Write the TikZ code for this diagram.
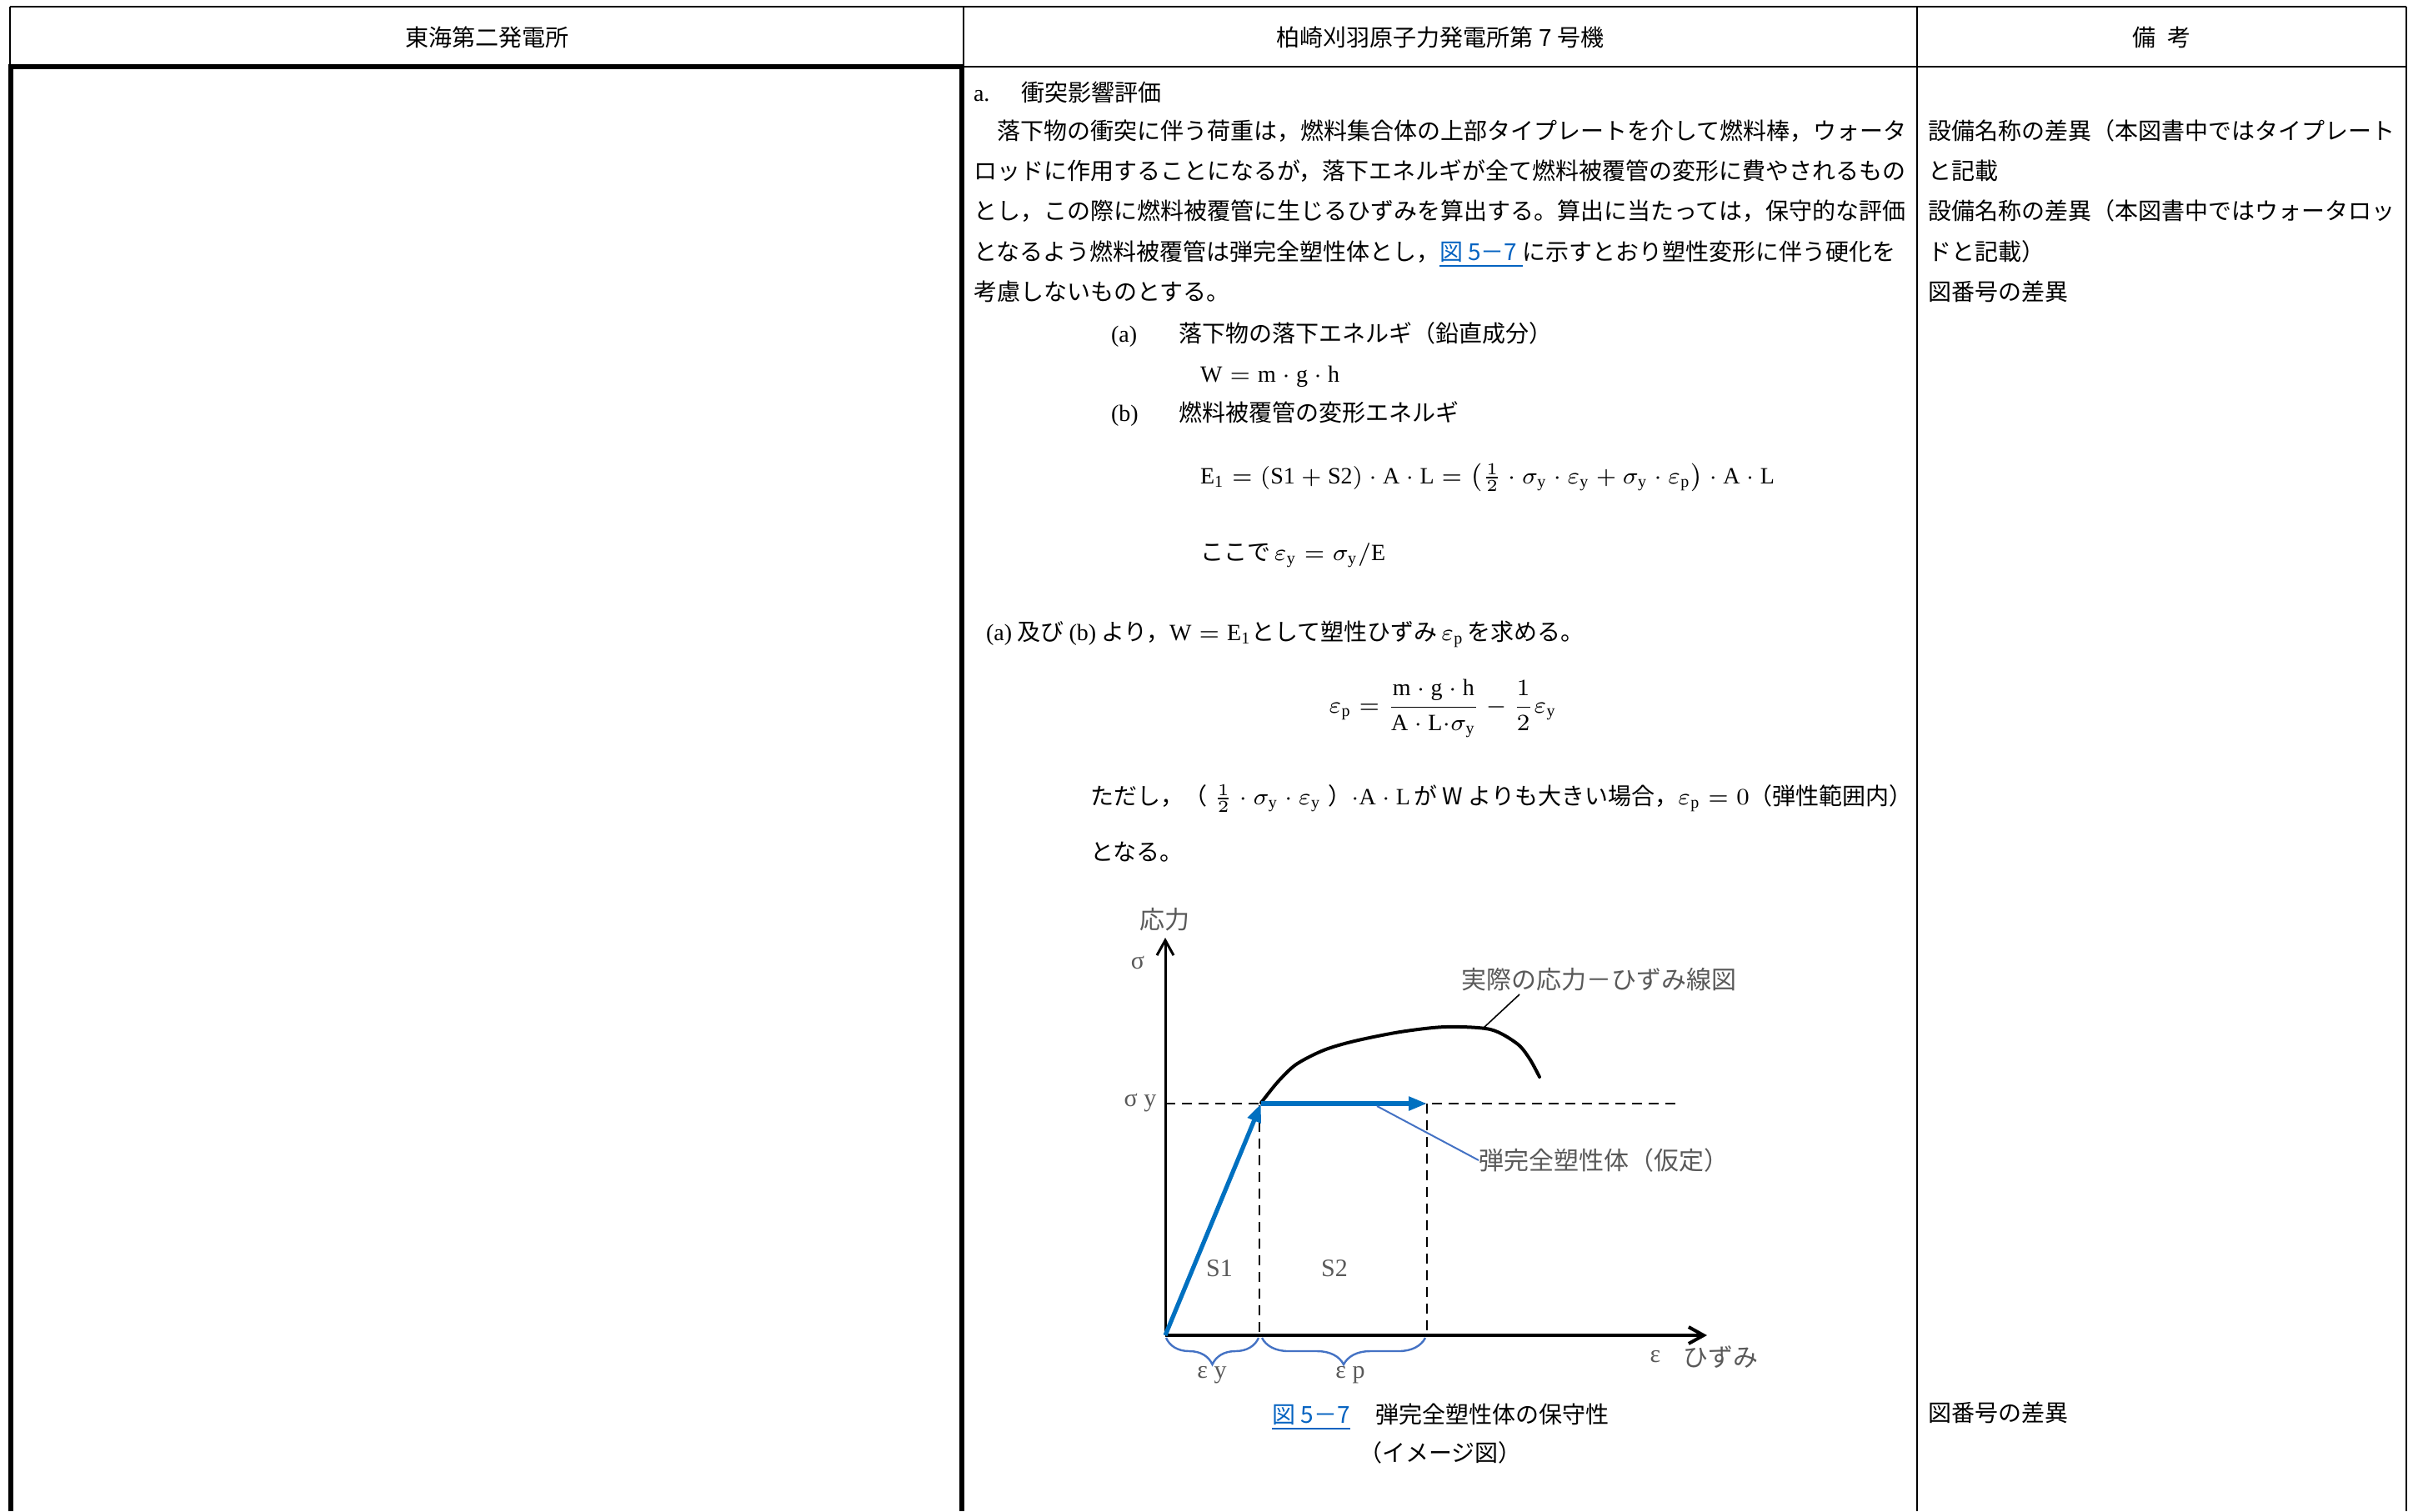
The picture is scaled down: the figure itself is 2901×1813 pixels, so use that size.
\documentclass[tikz,border=0pt]{standalone}
\usepackage{amsmath}
\usepackage{fontspec}
\setmainfont{Liberation Serif}
\newfontfamily\jpfont{Noto Sans CJK JP}
\usetikzlibrary{arrows.meta,decorations.pathreplacing}

\begin{document}
\begin{tikzpicture}[x=0.25pt,y=-0.25pt,
  cell/.style={text=drawColor,inner sep=0pt,outer sep=0pt,font=\fontsize{7}{8}\selectfont\jpfont},
  txtline/.style={cell,anchor=base west},
  lab/.style={text=labColor,inner sep=0pt,outer sep=0pt,font=\fontsize{7.5}{9}\selectfont\jpfont},
  gridthin/.style={draw=drawColor,line width=0.5pt},
  gridthick/.style={draw=drawColor,line width=1.3pt,line join=miter},
  guide/.style={draw=drawColor,line width=0.6pt,dash pattern=on 3pt off 2pt},
  plastic/.style={draw=blueColor,line width=1.3pt,-{Triangle[length=5.5pt,width=4pt]}},
  axis/.style={draw=drawColor,-{Straight Barb[length=4.5pt,width=5pt]}},
  strainbrace/.style={draw=braceColor,line width=0.6pt,decorate,decoration={brace,mirror,amplitude=8pt}}]
\definecolor{fillColor}{RGB}{255,255,255}
\path[use as bounding box,fill=fillColor] (0,0) rectangle (2901,1813);
\definecolor{drawColor}{RGB}{0,0,0}
\definecolor{labColor}{RGB}{89,89,89}
\definecolor{blueColor}{RGB}{0,112,192}
\definecolor{braceColor}{RGB}{68,114,196}
\definecolor{linkColor}{RGB}{5,99,193}

\path[gridthin] (12,8) -- (2887,8);
\path[gridthin] (12,8) -- (12,80);
\path[gridthin] (1156,8) -- (1156,80);
\path[gridthin] (1154,80) -- (2887,80);
\path[gridthin] (2300,8) -- (2300,1813);
\path[gridthin] (2887,8) -- (2887,1813);
\path[gridthick] (13,1813) -- (13,80) -- (1154,80) -- (1154,1813);

\node[cell,anchor=base] (hdrTokai) at (584,55) {東海第二発電所};
\node[cell,anchor=base] (hdrKK) at (1728,55) {柏崎刈羽原子力発電所第 7 号機};
\node[cell,anchor=base] (hdrNote) at (2593,55) {備\hspace{3.5pt}考};

\node[txtline] (secA) at (1168,121) {\rmfamily a.};
\node[txtline] (secATitle) at (1225,121) {衝突影響評価};
\node[txtline] (parA) at (1168,167) {　落下物の衝突に伴う荷重は，燃料集合体の上部タイプレートを介して燃料棒，ウォータ};
\node[txtline] (parB) at (1168,215) {ロッドに作用することになるが，落下エネルギが全て燃料被覆管の変形に費やされるもの};
\node[txtline] (parC) at (1168,263) {とし，この際に燃料被覆管に生じるひずみを算出する。算出に当たっては，保守的な評価};
\node[txtline] (parD) at (1168,312) {となるよう燃料被覆管は弾完全塑性体とし，{\color{linkColor}\underline{図 5－7 }}に示すとおり塑性変形に伴う硬化を};
\node[txtline] (parE) at (1168,360) {考慮しないものとする。};

\node[txtline] (itemA) at (1333,410) {\rmfamily (a)};
\node[txtline] (itemAText) at (1414,410) {落下物の落下エネルギ（鉛直成分）};
\node[txtline] (eqW) at (1440,458) {$\mathrm{W=m\cdot g\cdot h}$};
\node[txtline] (itemB) at (1333,505) {\rmfamily (b)};
\node[txtline] (itemBText) at (1414,505) {燃料被覆管の変形エネルギ};
\node[txtline] (eqE) at (1440,580) {$\mathrm{E_1=(S1+S2)\cdot A\cdot L}=\left(\tfrac{1}{2}\cdot\sigma_{\mathrm y}\cdot\varepsilon_{\mathrm y}+\sigma_{\mathrm y}\cdot\varepsilon_{\mathrm p}\right)\cdot\mathrm{A\cdot L}$};
\node[txtline] (eqEy) at (1440,672) {ここで\,$\varepsilon_{\mathrm y}=\sigma_{\mathrm y}/\mathrm{E}$};
\node[txtline] (fromAB) at (1183,768) {{\rmfamily (a)} 及び {\rmfamily (b)} より，$\mathrm{W=E_1}$として塑性ひずみ\,$\varepsilon_{\mathrm p}$\,を求める。};
\node[cell,anchor=center] (eqEp) at (1731,850) {$\displaystyle\varepsilon_{\mathrm p}=\frac{\mathrm{m\cdot g\cdot h}}{\mathrm{A\cdot L\cdot}\sigma_{\mathrm y}}-\frac{1}{2}\varepsilon_{\mathrm y}$};
\node[txtline] (provisoA) at (1308,965) {ただし，（\hspace{2pt}$\tfrac{1}{2}\cdot\sigma_{\mathrm y}\cdot\varepsilon_{\mathrm y}$\hspace{2pt}）$\cdot\mathrm{A\cdot L}$\,が W よりも大きい場合，$\varepsilon_{\mathrm p}=0$（弾性範囲内）};
\node[txtline] (provisoB) at (1308,1032) {となる。};

\node[txtline] (noteA) at (2313,167) {設備名称の差異（本図書中ではタイプレート};
\node[txtline] (noteB) at (2313,215) {と記載};
\node[txtline] (noteC) at (2313,263) {設備名称の差異（本図書中ではウォータロッ};
\node[txtline] (noteD) at (2313,312) {ドと記載）};
\node[txtline] (noteE) at (2313,360) {図番号の差異};
\node[txtline] (noteF) at (2313,1705) {図番号の差異};

\coordinate (orig) at (1398,1602);
\coordinate (ytip) at (1398,1125);
\coordinate (xtip) at (2048,1602);
\coordinate (yld) at (1513,1324);
\coordinate (plend) at (1712,1324);
\coordinate (syLeft) at (1398,1324);
\coordinate (syRight) at (2013,1324);
\coordinate (yldBase) at (1511,1602);
\coordinate (plBase) at (1712,1602);
\coordinate (yldTop) at (1511,1326);

\path[guide] (syLeft) -- (syRight);
\path[guide] (yldTop) -- (yldBase);
\path[guide] (plend) -- (plBase);
\path[axis,line width=0.75pt] (orig) -- (ytip);
\path[axis,line width=1pt] (orig) -- (xtip);
\path[draw=drawColor,line width=1pt,line cap=round] plot[smooth] coordinates {(1513,1323) (1533,1298) (1555,1277) (1588,1260) (1625,1249) (1680,1238) (1734,1232) (1788,1235) (1820,1252) (1835,1270) (1847,1292)};
\path[plastic] (orig) -- (yld);
\path[plastic] (yld) -- (plend);

\node[lab] (stressLab) at (1397,1103) {応力};
\node[lab] (sigLab) at (1365,1155) {\rmfamily σ};
\node[lab] (syLab) at (1368,1323) {\rmfamily σ y};
\node[lab] (realLab) at (1918,1175) {実際の応力－ひずみ線図};
\node[lab] (ppLab) at (1924,1392) {弾完全塑性体（仮定）};
\node[lab] (s1Lab) at (1463,1522) {\rmfamily S1};
\node[lab] (s2Lab) at (1601,1522) {\rmfamily S2};
\node[lab] (eyLab) at (1454,1650) {\rmfamily ε y};
\node[lab] (epLab) at (1620,1650) {\rmfamily ε p};
\node[lab] (epsLab) at (1986,1628) {\rmfamily ε};
\node[lab] (strainLab) at (2064,1628) {ひずみ};

\coordinate (realLead) at (1823,1193);
\coordinate (curvePt) at (1780,1233);
\coordinate (ppPt) at (1652,1327);
\path[draw=drawColor,line width=0.4pt] (realLead) -- (curvePt);
\path[draw=braceColor,line width=0.5pt] (ppPt) -- (ppLab.west);

\coordinate (brA) at (1399,1605);
\coordinate (brB) at (1510,1605);
\coordinate (brC) at (1514,1605);
\coordinate (brD) at (1710,1605);
\path[strainbrace] (brA) -- (brB);
\path[strainbrace] (brC) -- (brD);

\node[cell,anchor=base,text=linkColor] (capNo) at (1573,1707) {\underline{図 5－7}};
\node[cell,anchor=base west] (capTitle) at (1650,1707) {弾完全塑性体の保守性};
\node[cell,anchor=base] (capSub) at (1728,1753) {（イメージ図）};
\end{tikzpicture}
\end{document}
